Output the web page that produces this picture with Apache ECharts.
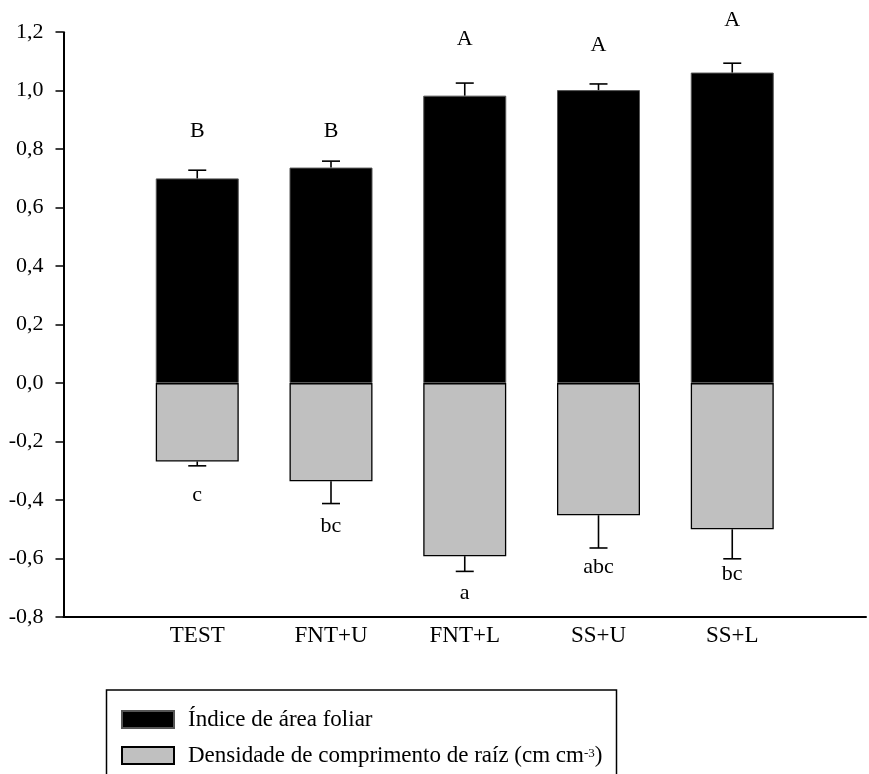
<!DOCTYPE html>
<html>
<head>
<meta charset="utf-8">
<script src="https://cdn.jsdelivr.net/npm/echarts@6/dist/echarts.min.js"></script>
<style>html,body{margin:0;padding:0;background:#fff}#c{width:869px;height:774px}</style>
</head>
<body>
<div id="c"></div>
<script>
// ---- data ----
var categories = ['TEST', 'FNT+U', 'FNT+L', 'SS+U', 'SS+L'];
var iafMean = [0.700, 0.737, 0.983, 1.002, 1.062];
var iafSE = [0.028, 0.022, 0.043, 0.021, 0.032];
var drcMean = [-0.268, -0.336, -0.592, -0.452, -0.500];
var drcSE = [0.015, 0.076, 0.052, 0.112, 0.101];
var upperLetters = ['B', 'B', 'A', 'A', 'A'];
var upperLetterY = [0.863, 0.863, 1.175, 1.156, 1.241];
var lowerLetters = ['c', 'bc', 'a', 'abc', 'bc'];
var lowerLetterY = [-0.383, -0.491, -0.719, -0.631, -0.654];
var yTicks = [-0.8, -0.6, -0.4, -0.2, 0.0, 0.2, 0.4, 0.6, 0.8, 1.0, 1.2];
var seriesNames = ['Índice de área foliar', 'Densidade de comprimento de raíz (cm cm-3)'];

var FONT = 'Liberation Serif';
var chart = echarts.init(document.getElementById('c'), null, {renderer: 'canvas'});

function xy(vals) { return vals.map(function (v, i) { return [i + 1, v]; }); }

function errItem(sign) {
  return function (params, api) {
    var x = api.value(0), m = api.value(1), s = api.value(2);
    var p0 = api.coord([x, m]);
    var p1 = api.coord([x, m + sign * s]);
    var hw = 9;
    var st = {stroke: '#000', lineWidth: 1.6};
    return {type: 'group', children: [
      {type: 'line', shape: {x1: p0[0], y1: p0[1], x2: p1[0], y2: p1[1]}, style: st},
      {type: 'line', shape: {x1: p1[0] - hw, y1: p1[1], x2: p1[0] + hw, y2: p1[1]}, style: st}
    ]};
  };
}
function letterItem(params, api) {
  var p = api.coord([api.value(0), api.value(1)]);
  return {type: 'text', x: p[0], y: p[1], style: {
    text: api.value(2), font: '22px "' + FONT + '"', fill: '#000',
    align: 'center', verticalAlign: 'middle'}};
}

chart.setOption({
  animation: false,
  backgroundColor: '#fff',
  textStyle: {fontFamily: FONT},
  grid: {left: 63.5, top: 32.2, width: 816, height: 584.8, containLabel: false},
  xAxis: [{
    type: 'value', min: 0, max: 6, interval: 1, position: 'bottom',
    axisLine: {show: false}, axisTick: {show: false}, splitLine: {show: false},
    axisLabel: {
      margin: 7, fontFamily: FONT, fontSize: 23, color: '#000',
      formatter: function (v) { return (v >= 1 && v <= categories.length) ? categories[v - 1] : ''; }
    }
  }, {
    type: 'value', min: 0, max: 6, position: 'bottom', show: true,
    axisLine: {show: true, onZero: true, lineStyle: {color: '#000', width: 2}},
    axisTick: {show: false}, axisLabel: {show: false}, splitLine: {show: false}
  }],
  yAxis: {
    type: 'value', min: yTicks[0], max: yTicks[yTicks.length - 1], interval: 0.2,
    axisLine: {show: true, onZero: false, lineStyle: {color: '#000', width: 2}},
    axisTick: {show: true, length: 8, lineStyle: {color: '#000', width: 1.5}},
    splitLine: {show: false},
    axisLabel: {
      margin: 20, fontFamily: FONT, fontSize: 22, color: '#000',
      formatter: function (v) { return v.toFixed(1).replace('.', ','); }
    }
  },
  legend: {
    orient: 'vertical', left: 121, top: 708, padding: 0, height: 200, width: 700,
    itemWidth: 52, itemHeight: 17, itemGap: 13, icon: 'rect',
    data: seriesNames,
    textStyle: {
      fontFamily: FONT, fontSize: 23, color: '#000', lineHeight: 17, padding: [0, 0, 0, 9],
      rich: {
        a: {fontFamily: FONT, fontSize: 23, color: '#000', lineHeight: 17},
        s: {fontFamily: FONT, fontSize: 13, color: '#000', lineHeight: 7, verticalAlign: 'top'}
      }
    },
    formatter: function (n) {
      if (n.indexOf('cm-3') >= 0) {
        return '{a|Densidade de comprimento de raíz (cm cm}{s|-3}{a|)}';
      }
      return '{a|' + n + '}';
    }
  },
  graphic: [{
    type: 'rect', left: 104, top: 687.5, silent: true, z: -1,
    shape: {width: 510, height: 200},
    style: {fill: 'none', stroke: '#000', lineWidth: 1.5}
  }],
  series: [{
    name: seriesNames[0], type: 'bar', barWidth: 83, barGap: '-100%',
    data: xy(iafMean),
    itemStyle: {color: '#000', borderColor: '#555', borderWidth: 1}
  }, {
    name: seriesNames[1], type: 'bar', barWidth: 83, barGap: '-100%',
    data: xy(drcMean),
    itemStyle: {color: '#c0c0c0', borderColor: '#000', borderWidth: 1.3}
  }, {
    type: 'custom', renderItem: errItem(1), z: 5,
    data: iafMean.map(function (v, i) { return [i + 1, v, iafSE[i]]; })
  }, {
    type: 'custom', renderItem: errItem(-1), z: 5,
    data: drcMean.map(function (v, i) { return [i + 1, v, drcSE[i]]; })
  }, {
    type: 'custom', renderItem: letterItem, z: 6,
    data: upperLetters.map(function (t, i) { return [i + 1, upperLetterY[i], t]; })
  }, {
    type: 'custom', renderItem: letterItem, z: 6,
    data: lowerLetters.map(function (t, i) { return [i + 1, lowerLetterY[i], t]; })
  }]
});
</script>
</body>
</html>
